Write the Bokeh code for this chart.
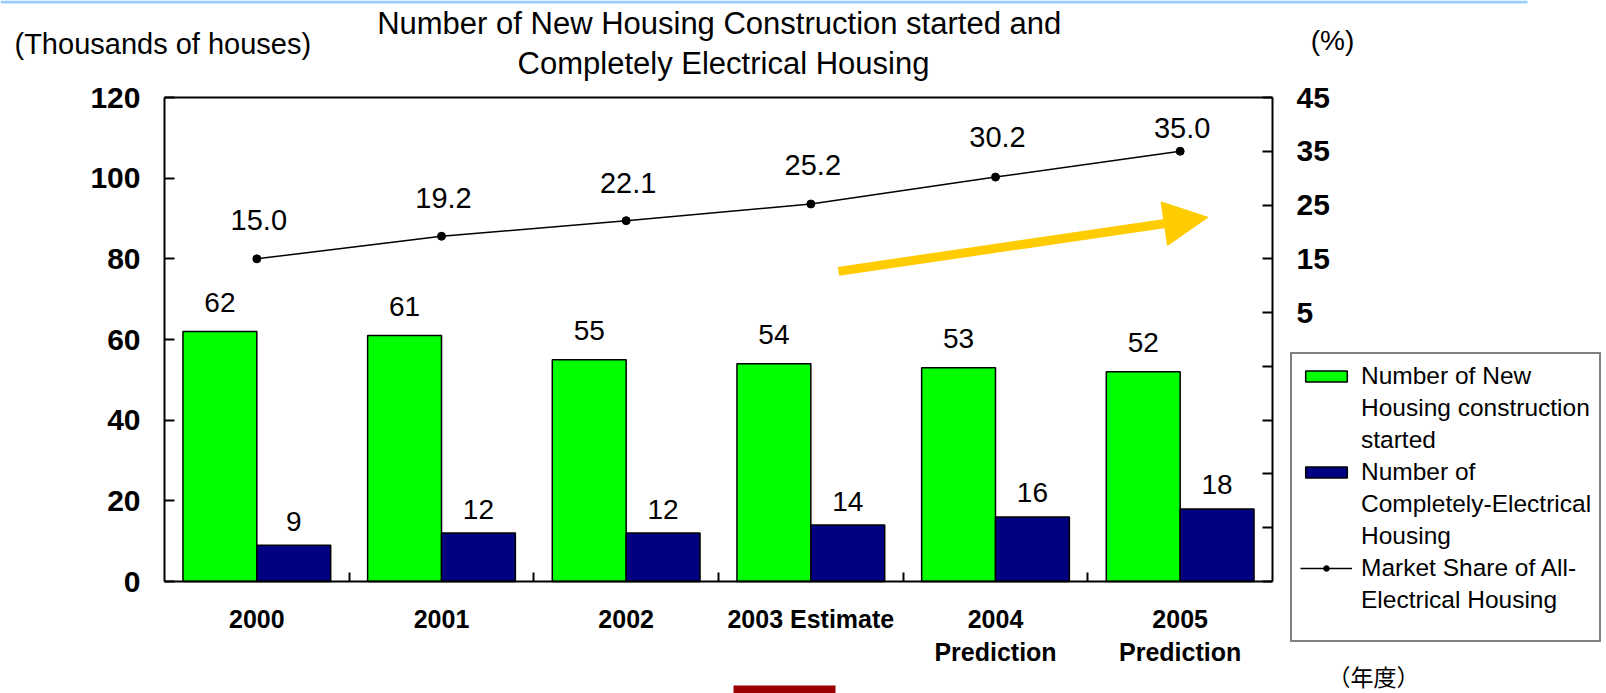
from bokeh.plotting import figure
from bokeh.models import (ColumnDataSource, Range1d, LinearAxis, FixedTicker, LabelSet, Label,
                          Legend, LegendItem, Arrow, NormalHead, BoxAnnotation)
from bokeh.embed import file_html
from bokeh.resources import INLINE
from bokeh.transform import dodge
from bokeh.core.properties import value

# ---------------- data ----------------
categories = ["2000", "2001", "2002", "2003 Estimate", "2004\nPrediction", "2005\nPrediction"]
new_housing = [62, 61, 55, 54, 53, 52]          # thousands of houses
electrical = [9, 12, 12, 14, 16, 18]            # thousands of houses
share = [15.0, 19.2, 22.1, 25.2, 30.2, 35.0]    # %
left_ticks = [0, 20, 40, 60, 80, 100, 120]
right_ticks = [-45, -35, -25, -15, -5, 5, 15, 25, 35, 45]
right_tick_labels = ["", "", "", "", "", "5", "15", "25", "35", "45"]
legend_lines = [["Number of New", "Housing construction", "started"],
                ["Number of", "Completely-Electrical", "Housing"],
                ["Market Share of All-", "Electrical Housing", " "]]
title_lines = ["Number of New  Housing Construction started and", "Completely Electrical Housing"]
left_unit = "(Thousands of houses)"
right_unit = "(%)"
x_unit = "（年度）"

# ---------------- layout constants (pixels, not data) ----------------
W, H = 1606, 693
PL, PR, PT, PB = 164, 1272, 97, 581          # plot-area edges on the canvas
share_label_offsets = [39, 38, 38, 39, 40, 23]
arrow_x = (3.65, 5.65)     # category-index units
arrow_y = (76.9, 90.3)     # left-axis units

FONT = "Liberation Sans"
GREEN = "#00FF00"
NAVY = "#000080"

n = len(categories)
ux = (PR - PL) / n                 # px per category
uy = (PB - PT) / 120.0             # px per thousand houses
up = (PB - PT) / 90.0              # px per percent

x_pos = [i + 0.5 for i in range(n)]
src = ColumnDataSource(dict(
    x=x_pos, new=new_housing, ele=electrical, share=share,
    new_lbl=[str(v) for v in new_housing],
    ele_lbl=[str(v) for v in electrical],
    share_lbl=["%.1f" % v for v in share],
    share_off=share_label_offsets,
))

p = figure(width=W, height=H, output_backend="svg", toolbar_location=None, title=None,
           x_range=Range1d(-PL / ux, (W - PL) / ux),
           y_range=Range1d(-(H - PB) / uy, 120 + PT / uy),
           min_border=0)
p.extra_y_ranges = {"pct": Range1d(-45 - (H - PB) / up, 45 + PT / up)}
p.xgrid.visible = False
p.ygrid.visible = False
p.outline_line_color = None

g = p.vbar(x=dodge("x", -0.2, range=p.x_range), top="new", width=0.4, source=src,
           fill_color=GREEN, line_color="black", line_width=1.5)
b = p.vbar(x=dodge("x", 0.2, range=p.x_range), top="ele", width=0.4, source=src,
           fill_color=NAVY, line_color="black", line_width=1.5)
ln = p.line(x="x", y="share", source=src, y_range_name="pct", line_color="black", line_width=1.5)
sc = p.scatter(x="x", y="share", source=src, y_range_name="pct", size=8,
               fill_color="black", line_color="black")
blank = p.vbar(x=[], top=[], width=0.4, fill_alpha=0, line_alpha=0)

p.add_layout(LabelSet(x=dodge("x", -0.2, range=p.x_range), y="new", text="new_lbl", source=src,
                      y_offset=29, text_align="center", text_baseline="middle",
                      text_font=value(FONT), text_font_size="28px", text_color="black"))
p.add_layout(LabelSet(x=dodge("x", 0.2, range=p.x_range), y="ele", text="ele_lbl", source=src,
                      y_offset=24, text_align="center", text_baseline="middle",
                      text_font=value(FONT), text_font_size="28px", text_color="black"))
p.add_layout(LabelSet(x="x", y="share", text="share_lbl", source=src, y_range_name="pct",
                      y_offset="share_off", x_offset=2, text_align="center", text_baseline="middle",
                      text_font=value(FONT), text_font_size="29px", text_color="black"))

p.add_layout(Arrow(end=NormalHead(size=44, fill_color="#FFCC00", line_color="#FFCC00"),
                   x_start=arrow_x[0], y_start=arrow_y[0], x_end=arrow_x[1], y_end=arrow_y[1],
                   line_color="#FFCC00", line_width=9))

def style_y(ax):
    ax.major_label_text_font = FONT
    ax.major_label_text_font_style = "bold"
    ax.major_label_text_font_size = "30px"
    ax.major_label_text_color = "black"
    ax.major_tick_in = 10
    ax.major_tick_out = 0
    ax.major_tick_line_width = 2
    ax.minor_tick_line_color = None
    ax.axis_line_width = 2
    ax.major_label_standoff = 24

for ax in p.yaxis:
    ax.ticker = FixedTicker(ticks=left_ticks)
    ax.fixed_location = 0
    ax.bounds = (0, 120)
    style_y(ax)

ry = LinearAxis(y_range_name="pct", ticker=FixedTicker(ticks=right_ticks),
                major_label_overrides={t: l for t, l in zip(right_ticks, right_tick_labels)},
                fixed_location=n, bounds=(-45, 45))
style_y(ry)
p.add_layout(ry, "right")

for ax in p.xaxis:
    ax.ticker = FixedTicker(ticks=x_pos, minor_ticks=list(range(1, n)))
    ax.major_label_overrides = {x: c for x, c in zip(x_pos, categories)}
    ax.fixed_location = 0
    ax.bounds = (0, n)
    ax.major_label_text_font = FONT
    ax.major_label_text_font_style = "bold"
    ax.major_label_text_font_size = "25px"
    ax.major_label_text_color = "black"
    ax.major_tick_line_color = None
    ax.minor_tick_in = 9
    ax.minor_tick_out = 0
    ax.minor_tick_line_width = 2
    ax.axis_line_width = 2
    ax.major_label_standoff = 17

# top edge of the plot area
top_edge = LinearAxis(ticker=FixedTicker(ticks=[]), fixed_location=120, bounds=(0, n),
                      axis_line_width=2, major_tick_line_color=None, minor_tick_line_color=None,
                      major_label_text_font_size="0px")
p.add_layout(top_edge, "above")

# legend (one row per text line; the first row of each series carries the swatch)
series_renderers = [[g], [b], [ln, sc]]
items = []
for rends, lines in zip(series_renderers, legend_lines):
    items.append(LegendItem(label=lines[0], renderers=rends))
    for extra in lines[1:]:
        items.append(LegendItem(label=extra, renderers=[blank]))
legend = Legend(items=items, location=(1290, 51))
legend.label_text_font = FONT
legend.label_text_font_size = "24.5px"
legend.label_text_color = "black"
legend.glyph_width = 52
legend.glyph_height = 14
legend.label_standoff = 9
legend.label_width = 226
legend.spacing = 4
legend.padding = 8
legend.margin = 0
legend.border_line_color = "black"
legend.border_line_width = 2
legend.background_fill_color = "white"
p.add_layout(legend, "center")

# free texts (screen units measured from the canvas bottom-left)
def add_text(txt, cx, cy, size, align="center", font=FONT):
    p.add_layout(Label(x=cx, y=H - cy, x_units="screen", y_units="screen", text=txt,
                       text_font=font, text_font_size=size, text_align=align,
                       text_baseline="middle", text_color="black"))

add_text(title_lines[0], 723, 23, "31px")
add_text(title_lines[1], 723, 63, "31px")
add_text(left_unit, 14, 43, "29px", align="left")
add_text(right_unit, 1332, 40, "28px")
add_text(x_unit, 1373, 675, "23px", font="Noto Sans CJK JP")

# decorative strips of the source slide
p.add_layout(BoxAnnotation(left=0, right=1527, bottom=H - 3, top=H, left_units="screen",
                           right_units="screen", bottom_units="screen", top_units="screen",
                           fill_color="#99CCFF", fill_alpha=1, line_color=None))
p.add_layout(BoxAnnotation(left=733, right=835, bottom=0, top=8, left_units="screen",
                           right_units="screen", bottom_units="screen", top_units="screen",
                           fill_color="#990000", fill_alpha=1, line_color=None))

open("out.html", "w").write(file_html(p, INLINE))
